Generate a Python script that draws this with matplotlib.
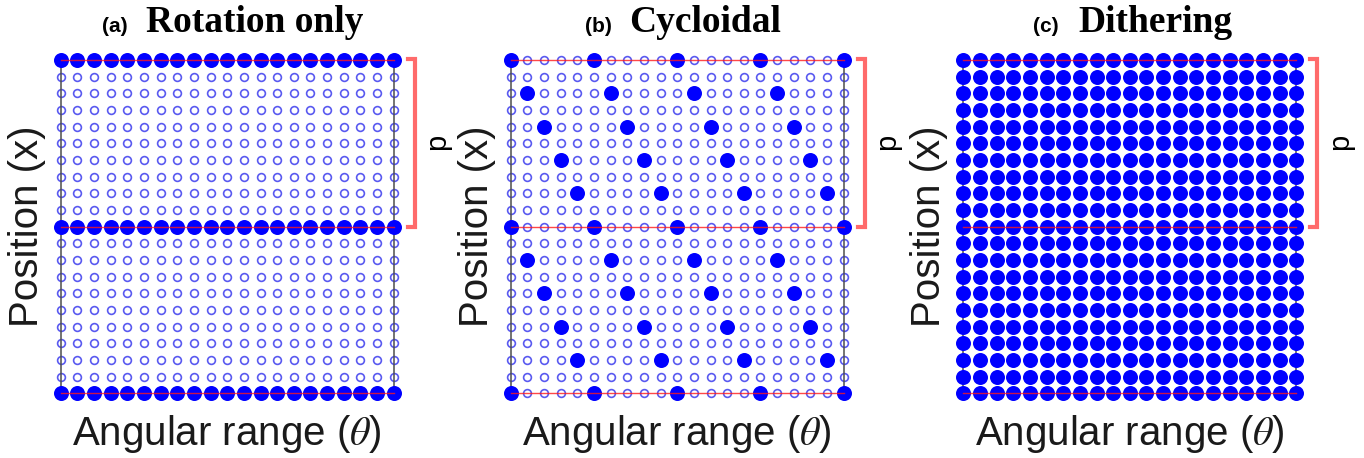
import matplotlib
matplotlib.use("Agg")
import matplotlib.pyplot as plt

# Fonts
plt.rcParams['font.family'] = ['Liberation Sans', 'DejaVu Sans']
plt.rcParams['mathtext.fontset'] = 'stix'

# Data for the grids
angles = list(range(21))       # columns (angular range)
positions = list(range(21))    # rows (position), counted from the top
period_rows = [0, 10, 20]      # rows that mark one period p

panel_letters = ["(a)", "(b)", "(c)"]
panel_titles = ["Rotation only", "Cycloidal", "Dithering"]

# filled points, row (from top) -> list of columns
rotation_filled = {
    0: angles,
    10: angles,
    20: angles,
}
cycloid_filled = {
    0: [0, 5, 10, 15, 20],
    2: [1, 6, 11, 16],
    4: [2, 7, 12, 17],
    6: [3, 8, 13, 18],
    8: [4, 9, 14, 19],
    10: [0, 5, 10, 15, 20],
    12: [1, 6, 11, 16],
    14: [2, 7, 12, 17],
    16: [3, 8, 13, 18],
    18: [4, 9, 14, 19],
    20: [0, 5, 10, 15, 20],
}
dither_filled = {r: angles for r in positions}

all_filled = [rotation_filled, cycloid_filled, dither_filled]

# Layout (pixels)
W, H = 1364, 458
col0_px = [60.7, 510.7, 963.3]
dx = 16.65
dy = 16.67
row_bottom_px = 393.3   # y of bottom row, from the top of the image

# title offsets in columns from col 0
letter_x = [2.5, 4.45, 4.2]
title_x = [5.1, 7.1, 6.9]

BLUE = "#0000ff"
RING = "#5a5af0"
RED = "#ff1a1a"
BRACKET = "#ff6b6b"

fig = plt.figure(figsize=(W / 100, H / 100), dpi=100)


def draw_panel(k):
    left = (col0_px[k] - 0.5 * dx) / W
    bottom = (H - row_bottom_px - 0.5 * dy) / H
    ax = fig.add_axes([left, bottom, 21 * dx / W, 21 * dy / H])
    ax.set_xlim(-0.5, 20.5)
    ax.set_ylim(-0.5, 20.5)
    ax.axis("off")

    filled = all_filled[k]

    # open circles
    ox, oy = [], []
    fx, fy = [], []
    for r in positions:
        for c in angles:
            if c in filled.get(r, []):
                fx.append(c)
                fy.append(20 - r)
            else:
                ox.append(c)
                oy.append(20 - r)
    ax.plot(ox, oy, "o", ms=5.6, mfc="white", mec=RING, mew=1.2,
            ls="none", zorder=2, clip_on=False)

    # box sides
    ax.plot([angles[0], angles[0]], [0, 20], color="#4d4d4d", lw=1.1, zorder=2.5, clip_on=False)
    ax.plot([angles[-1], angles[-1]], [0, 20], color="#4d4d4d", lw=1.1, zorder=2.5, clip_on=False)

    # filled dots
    ax.plot(fx, fy, "o", ms=10.8, color=BLUE, mec="none",
            ls="none", zorder=3, clip_on=False)

    # period lines
    for r in period_rows:
        ax.plot([angles[0], angles[-1]], [20 - r, 20 - r], color=RED,
                lw=1.0, alpha=0.8, zorder=4, clip_on=False)

    # bracket for p
    bx0, bx1 = 20.85, 21.25
    ax.plot([bx0, bx1, bx1, bx0], [20.05, 20.05, 9.95, 9.95], color=BRACKET,
            lw=3.0, solid_joinstyle="miter", zorder=4, clip_on=False)
    ax.text(22.6, 15.1, "p", rotation=90, fontsize=21, ha="center", va="center")

    # axis labels
    ax.text(-2.05, 10, "Position (x)", rotation=90, fontsize=29,
            ha="center", va="center", color="#1a1a1a")
    ax.text(10, -2.45, r"Angular range ($\theta$)", fontsize=29,
            ha="center", va="center", color="#1a1a1a")

    # titles
    ax.text(letter_x[k], 21.65, panel_letters[k], fontsize=15, fontweight="bold",
            ha="left", va="baseline")
    ax.text(title_x[k], 21.65, panel_titles[k], fontsize=27, fontweight="bold",
            family=["Liberation Serif", "DejaVu Serif"], ha="left", va="baseline")


for k in range(3):
    draw_panel(k)

fig.savefig("out.png", dpi=100)
